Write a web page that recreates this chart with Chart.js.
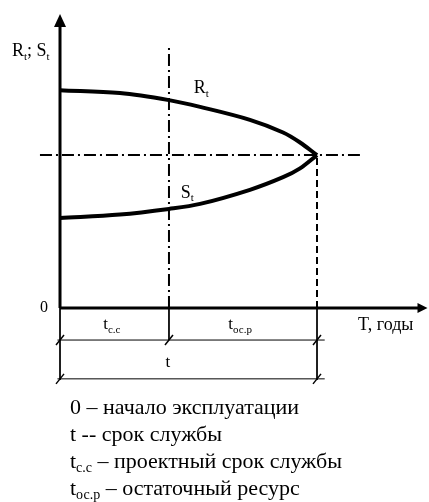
<!DOCTYPE html>
<html><head><meta charset="utf-8">
<script src="https://cdn.jsdelivr.net/npm/chart.js@4.4.1/dist/chart.umd.min.js"></script>
<style>html,body{margin:0;padding:0;background:#fff}#wrap{width:429px;height:502px}</style>
</head><body><div id="wrap"><canvas id="c" width="429" height="502"></canvas></div>
<script>
// time (arbitrary units, t = 10 at end of service)
const tValues = [0, 2.33, 4.24, 5.45, 7.39, 8.68, 9.34, 10];
const Rvalues = [7.41, 7.31, 7.07, 6.84, 6.40, 5.97, 5.63, 5.2];
const Svalues = [3.06, 3.18, 3.37, 3.54, 4.02, 4.45, 4.75, 5.2];
const tDesign = 4.24;
const tLife = 10;
const crossLevel = 5.2;
const legendLines = [
  ["0", "", " – начало эксплуатации"],
  ["t", "", " -- срок службы"],
  ["t", "с.с", " – проектный срок службы"],
  ["t", "ос.р", " – остаточный ресурс"]
];

const pts = (xs, ys) => xs.map((x, i) => ({x, y: ys[i]}));
const seg = (x1, y1, x2, y2) => [{x: x1, y: y1}, {x: x2, y: y2}];
const F = 'Liberation Serif, "Times New Roman", serif';

function line(data, w, dash, tension) {
  return {data, borderColor: '#000', borderWidth: w, borderDash: dash || [],
    pointRadius: 0, showLine: true, tension: tension || 0, fill: false,
    borderCapStyle: 'butt', clip: false};
}

const datasets = [
  line(pts(tValues, Rvalues), 4, null, 0.35),
  line(pts(tValues, Svalues), 4, null, 0.35),
  line(seg(0, 0, 0, 9.7), 3),
  line(seg(0, 0, 14.0, 0), 3),
  line(seg(tDesign, 0, tDesign, 8.84), 2, [12, 4, 2, 4]),
  line(seg(-0.78, crossLevel, 11.67, crossLevel), 2, [12, 4, 2, 4]),
  line(seg(tLife, 0, tLife, crossLevel), 2, [7, 4]),
  line(seg(0, 0, 0, -2.45), 1),
  line(seg(tDesign, 0, tDesign, -1.09), 1),
  line(seg(tLife, 0, tLife, -2.45), 1),
  line(seg(-0.1, -1.09, 10.3, -1.09), 1),
  line(seg(-0.1, -2.41, 10.3, -2.41), 1)
];

function subText(ctx, x, y, main, sub, size) {
  ctx.font = size + 'px ' + F;
  ctx.fillText(main, x, y);
  let w = ctx.measureText(main).width;
  if (sub) {
    ctx.font = Math.round(size * 0.62) + 'px ' + F;
    ctx.fillText(sub, x + w, y + size * 0.2);
    w += ctx.measureText(sub).width;
  }
  return w;
}

const deco = {
  id: 'deco',
  afterDatasetsDraw(chart) {
    const ctx = chart.ctx, xs = chart.scales.x, ys = chart.scales.y;
    const X = v => xs.getPixelForValue(v), Y = v => ys.getPixelForValue(v);
    ctx.save();
    ctx.fillStyle = '#000'; ctx.strokeStyle = '#000';
    // arrows
    ctx.beginPath();
    ctx.moveTo(X(0), Y(10)); ctx.lineTo(X(0) - 6, Y(10) + 13); ctx.lineTo(X(0) + 6, Y(10) + 13); ctx.closePath(); ctx.fill();
    ctx.beginPath();
    const ax = X(14.3);
    ctx.moveTo(ax, Y(0)); ctx.lineTo(ax - 10, Y(0) - 5); ctx.lineTo(ax - 10, Y(0) + 5); ctx.closePath(); ctx.fill();
    // oblique ticks on dimension lines
    ctx.lineWidth = 1.5;
    [[0, -1.09], [tDesign, -1.09], [tLife, -1.09], [0, -2.41], [tLife, -2.41]].forEach(([a, b]) => {
      ctx.beginPath(); ctx.moveTo(X(a) - 4, Y(b) + 5); ctx.lineTo(X(a) + 4, Y(b) - 5); ctx.stroke();
    });
    // texts
    ctx.textBaseline = 'alphabetic'; ctx.textAlign = 'left';
    let w = subText(ctx, 12, 56, 'R', 't', 18);
    ctx.font = '18px ' + F; ctx.fillText(';', 12 + w, 56);
    w += ctx.measureText('; ').width;
    subText(ctx, 12 + w, 56, 'S', 't', 18);
    subText(ctx, X(5.2), Y(7.3), 'R', 't', 18);
    subText(ctx, X(4.7), Y(3.75), 'S', 't', 18);
    ctx.font = '16px ' + F; ctx.fillText('0', X(0) - 20, Y(0) + 4);
    ctx.font = '18px ' + F; ctx.fillText('T, годы', X(11.6), Y(-0.75));
    subText(ctx, X(1.68), Y(-0.72), 't', 'с.с', 17);
    subText(ctx, X(6.55), Y(-0.72), 't', 'ос.р', 17);
    ctx.font = '17px ' + F; ctx.fillText('t', X(4.1), Y(-2.0));
    // legend
    legendLines.forEach((l, i) => {
      const y0 = 414 + i * 27;
      let ww = subText(ctx, 70, y0, l[0], l[1], 22);
      ctx.font = '22px ' + F; ctx.fillText(l[2], 70 + ww, y0);
    });
    ctx.restore();
  }
};

new Chart(document.getElementById('c'), {
  type: 'scatter',
  data: {datasets},
  options: {
    responsive: false, animation: false,
    layout: {padding: 0},
    plugins: {legend: {display: false}, tooltip: {enabled: false}},
    scales: {
      x: {type: 'linear', display: false, min: -2.335, max: 14.358},
      y: {type: 'linear', display: false, min: -6.599, max: 10.476}
    }
  },
  plugins: [deco]
});
</script></body></html>
